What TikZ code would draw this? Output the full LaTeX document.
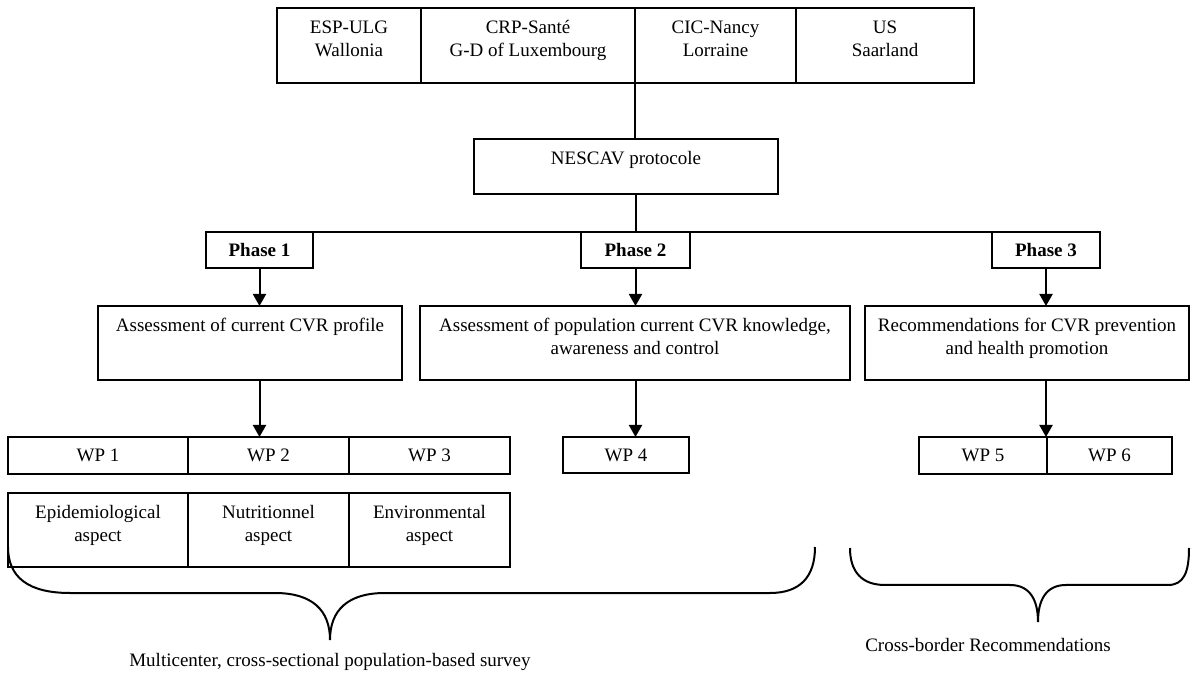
\documentclass[tikz,border=0pt]{standalone}
\usepackage{fontspec}
\setmainfont{Liberation Serif}
\usetikzlibrary{arrows.meta}

\begin{document}
\begin{tikzpicture}[x=0.5pt,y=-0.5pt,line width=1pt,
  font=\fontsize{9.5}{11.5}\selectfont,
  box/.style={draw,inner sep=0pt,outer sep=0pt},
  wh/.style 2 args={minimum width=#1*0.5pt,minimum height=#2*0.5pt},
  toptext/.style={label={[anchor=north,inner sep=0pt,align=center,yshift=-4.45pt]north:{\strut #1}}},
  arr/.style={-{Triangle[length=6pt,width=6.5pt]}}]

  \useasboundingbox (0,0) rectangle (1200,678);

  %% partners
  \node[box,wh={144}{75},toptext={ESP-ULG\\Wallonia}] (esp) at (349,45.5) {};
  \node[box,wh={214}{75},toptext={CRP-Santé\\G-D of Luxembourg}] (crp) at (528,45.5) {};
  \node[box,wh={161}{75},toptext={CIC-Nancy\\Lorraine}] (cic) at (715.5,45.5) {};
  \node[box,wh={178}{75},toptext={US\\Saarland}] (us) at (885,45.5) {};

  \node[box,wh={304}{55},toptext={NESCAV protocole}] (nescav) at (626,166.5) {};

  %% phases
  \node[box,wh={107}{36},font=\fontsize{9.5}{11.5}\selectfont\bfseries] (phase1) at (259.5,250) {Phase 1};
  \node[box,wh={109}{36},font=\fontsize{9.5}{11.5}\selectfont\bfseries] (phase2) at (635.5,250) {Phase 2};
  \node[box,wh={108}{36},font=\fontsize{9.5}{11.5}\selectfont\bfseries] (phase3) at (1046,250) {Phase 3};

  \node[box,wh={304}{74},toptext={Assessment of current CVR profile}] (cvr1) at (250,343) {};
  \node[box,wh={430}{74},toptext={Assessment of population current CVR knowledge,\\awareness and control}] (cvr2) at (635,343) {};
  \node[box,wh={324}{74},toptext={Recommendations for CVR prevention\\and health promotion}] (cvr3) at (1027,343) {};

  %% work packages
  \node[box,wh={180}{37}] (wp1) at (98,455.5) {WP 1};
  \node[box,wh={161}{37}] (wp2) at (268.5,455.5) {WP 2};
  \node[box,wh={161}{37}] (wp3) at (429.5,455.5) {WP 3};
  \node[box,wh={126}{36}] (wp4) at (626,455) {WP 4};
  \node[box,wh={128}{37}] (wp5) at (983,455.5) {WP 5};
  \node[box,wh={125}{37}] (wp6) at (1109.5,455.5) {WP 6};

  \node[box,wh={180}{74},toptext={Epidemiological\\aspect}] (asp1) at (98,530) {};
  \node[box,wh={161}{74},toptext={Nutritionnel\\aspect}] (asp2) at (268.5,530) {};
  \node[box,wh={161}{74},toptext={Environmental\\aspect}] (asp3) at (429.5,530) {};

  \node (survey) at (330,662) {Multicenter, cross-sectional population-based survey};
  \node (crossb) at (988,645) {Cross-border Recommendations};

  %% connectors
  \draw (crp.south east) -- (crp.south east |- nescav.north);
  \draw (nescav.south -| phase2) -- (phase2.north);
  \draw (phase1.north east) -- (phase3.north west);

  \draw[arr] (phase1.south) -- (cvr1.north -| phase1.south);
  \draw[arr] (phase2.south) -- (cvr2.north -| phase2.south);
  \draw[arr] (phase3.south) -- (cvr3.north -| phase3.south);

  \draw[arr] (cvr1.south -| phase1.south) -- (wp2.north -| phase1.south);
  \draw[arr] (cvr2.south -| phase2.south) -- (wp4.north -| phase2.south);
  \draw[arr] (cvr3.south -| phase3.south) -- (wp5.north -| phase3.south);

  %% braces
  \draw (8,547) .. controls (8,577) and (28,593) .. (70,593) -- (275,593)
    .. controls (312,593) and (330,610) .. (330,640)
    .. controls (330,610) and (348,593) .. (385,593) -- (770,593)
    .. controls (800,593) and (815,577) .. (815,547);
  \draw (850,548) .. controls (850,572) and (862,585) .. (885,585) -- (1010,585)
    .. controls (1030,585) and (1038,600) .. (1038,622)
    .. controls (1038,600) and (1046,585) .. (1066,585) -- (1168,585)
    .. controls (1184,585) and (1189,572) .. (1189,548);

\end{tikzpicture}
\end{document}
